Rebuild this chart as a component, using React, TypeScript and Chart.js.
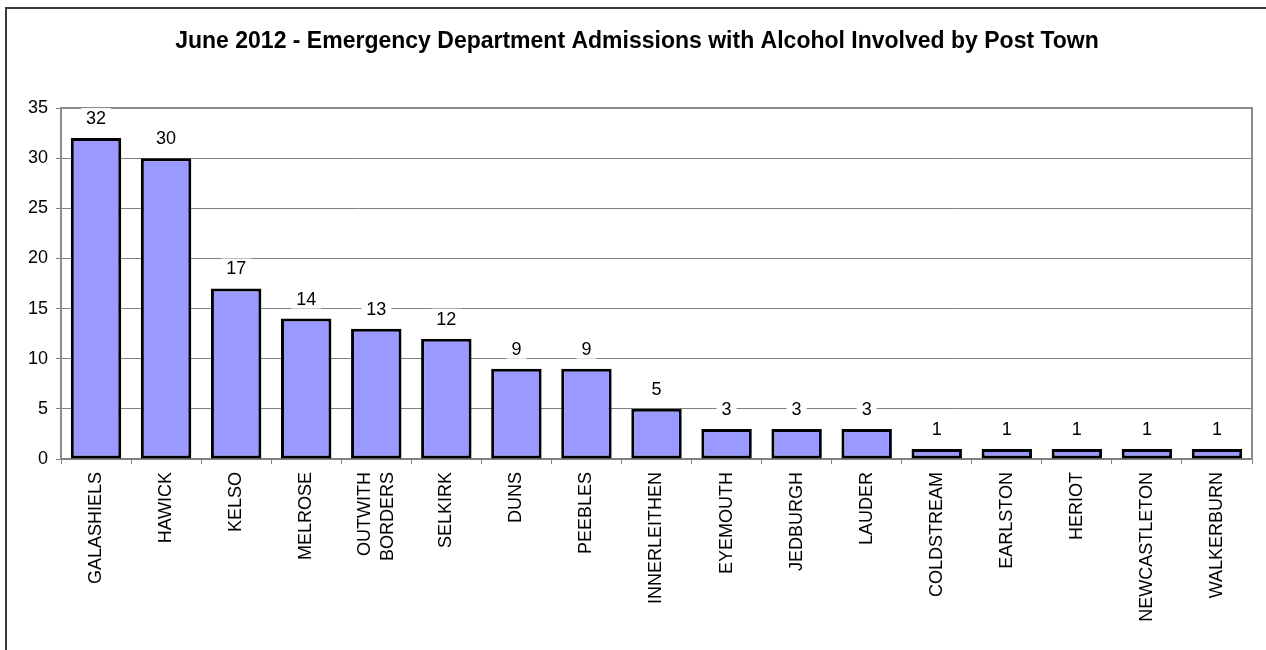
import React, { useEffect, useRef } from "react";
import { Chart, registerables } from "chart.js";

Chart.register(...registerables);

const TITLE = "June 2012 - Emergency Department Admissions with Alcohol Involved by Post Town";
const categories: (string | string[])[] = [
  "GALASHIELS", "HAWICK", "KELSO", "MELROSE", ["OUTWITH", "BORDERS"], "SELKIRK", "DUNS",
  "PEEBLES", "INNERLEITHEN", "EYEMOUTH", "JEDBURGH", "LAUDER", "COLDSTREAM", "EARLSTON",
  "HERIOT", "NEWCASTLETON", "WALKERBURN",
];
const admissions = [32, 30, 17, 14, 13, 12, 9, 9, 5, 3, 3, 3, 1, 1, 1, 1, 1];
const yMin = 0;
const yMax = 35;
const yStep = 5;

const FONT = "'Liberation Sans', Arial, sans-serif";

const decorPlugin = {
  id: "decor",
  beforeDraw(chart: any) {
    const { ctx } = chart;
    ctx.save();
    ctx.fillStyle = "#ffffff";
    ctx.fillRect(0, 0, chart.width, chart.height);
    ctx.strokeStyle = "#3a3a3a";
    ctx.lineWidth = 2;
    ctx.strokeRect(6, 8, chart.width + 20, chart.height + 20);
    ctx.restore();
    // center multi-line rotated labels around their tick
    const xs = chart.scales.x;
    const items = xs.getLabelItems(chart.chartArea);
    items.forEach((it: any) => {
      if (Array.isArray(it.label) && !it._centered) {
        it.textOffset -= ((it.label.length - 1) * it.font.lineHeight) / 2;
        it._centered = true;
      }
    });
  },
  afterDraw(chart: any) {
    const { ctx, chartArea } = chart;
    ctx.save();
    // plot border top and right
    ctx.strokeStyle = "#8c8c8c";
    ctx.lineWidth = 2;
    ctx.beginPath();
    ctx.moveTo(chartArea.left, chartArea.top);
    ctx.lineTo(chartArea.right, chartArea.top);
    ctx.lineTo(chartArea.right, chartArea.bottom);
    ctx.stroke();
    // title
    ctx.fillStyle = "#000";
    ctx.font = `bold 23px ${FONT}`;
    ctx.textAlign = "center";
    ctx.textBaseline = "middle";
    ctx.fillText(TITLE, 637, 42);
    // data labels
    ctx.font = `18px ${FONT}`;
    const meta = chart.getDatasetMeta(0);
    meta.data.forEach((bar: any, i: number) => {
      const text = String(chart.data.datasets[0].data[i]);
      const w = ctx.measureText(text).width;
      const cx = bar.x;
      const cy = bar.y - 20;
      ctx.fillStyle = "#ffffff";
      ctx.fillRect(cx - w / 2 - 5, cy - 10, w + 10, 20);
      ctx.fillStyle = "#000";
      ctx.fillText(text, cx, cy + 1);
    });
    ctx.restore();
  },
};

export default function App() {
  const ref = useRef<HTMLCanvasElement>(null);
  useEffect(() => {
    if (!ref.current) return;
    const chart = new Chart(ref.current, {
      type: "bar",
      data: {
        labels: categories,
        datasets: [
          {
            data: admissions,
            backgroundColor: "#9999ff",
            borderColor: "#000000",
            borderWidth: 3,
            borderSkipped: false,
            barPercentage: 0.72,
            categoryPercentage: 1,
          },
        ],
      },
      plugins: [decorPlugin],
      options: {
        responsive: false,
        animation: false,
        events: [],
        layout: { padding: { left: 0, right: 14, top: 108, bottom: 0 } },
        plugins: {
          legend: { display: false },
          tooltip: { enabled: false },
          title: { display: false },
        },
        scales: {
          x: {
            grid: {
              drawOnChartArea: false,
              drawTicks: true,
              tickLength: 5,
              color: "#808080",
              lineWidth: 1,
            },
            border: { color: "#808080", width: 2 },
            ticks: {
              color: "#000",
              font: { family: FONT, size: 18, lineHeight: 1.3 },
              minRotation: 90,
              maxRotation: 90,
              autoSkip: false,
              padding: 8,
            },
            afterFit(scale: any) {
              scale.height = 191;
            },
          },
          y: {
            min: yMin,
            max: yMax,
            ticks: {
              stepSize: yStep,
              color: "#000",
              font: { family: FONT, size: 18 },
              padding: 8,
            },
            grid: {
              color: "#808080",
              lineWidth: 1,
              tickLength: 5,
            },
            border: { color: "#8c8c8c", width: 2 },
            afterFit(scale: any) {
              scale.width = 61;
            },
          },
        },
      },
    });
    return () => chart.destroy();
  }, []);
  return (
    <div style={{ position: "fixed", left: 0, top: 0, width: 1266, height: 650, background: "#fff" }}>
      <canvas ref={ref} width={1266} height={650} style={{ width: 1266, height: 650, display: "block" }} />
    </div>
  );
}
